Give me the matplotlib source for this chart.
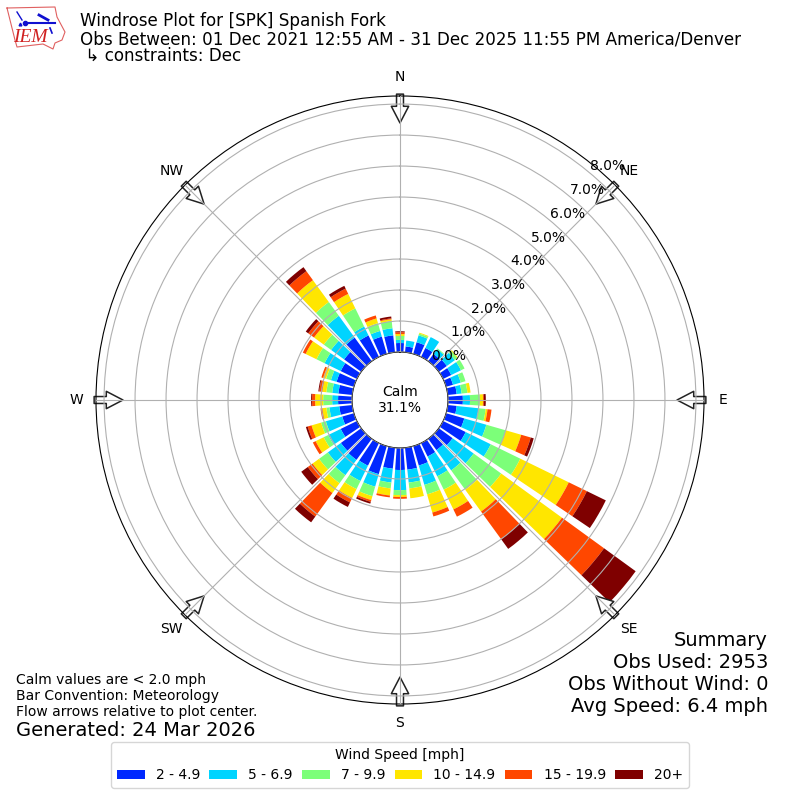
import numpy as np
import matplotlib
matplotlib.use('Agg')
import matplotlib.pyplot as plt

# percent of obs per 10 degree direction bin, one list per speed class
directions = [10, 20, 30, 40, 50, 60, 70, 80, 90, 100, 110, 120,
              130, 140, 150, 160, 170, 180, 190, 200, 210, 220, 230, 240,
              250, 260, 270, 280, 290, 300, 310, 320, 330, 340, 350, 360]
speed_2_5 = [.19, .39, .32, .29, .32, .29, .23, .29, .48, .29, .61, .81,
             .55, .45, .48, .65, .71, .71, .68, .94, .81, .84, .81, .58,
             .39, .42, .45, .45, .58, .58, .68, .94, .77, .58, .55, .29]
speed_5_7 = [.19, .23, .39, .19, .32, .35, .26, .16, .23, .71, .74, .90,
             .84, .81, .71, .65, .42, .65, .45, .42, .55, .61, .52, .45,
             .55, .32, .19, .20, .19, .58, .52, .87, .32, .19, .23, .10]
speed_7_10 = [0, .06, 0, .03, .10, .13, .16, .19, .32, .23, .65, 1.06,
              1.10, .77, .48, .32, .19, .16, .19, .32, .29, .32, .35, .16,
              .16, .10, .29, .19, .16, .29, .29, .55, .65, .26, .23, .13]
speed_10_15 = [0, .03, 0, 0, .03, 0, 0, .10, .10, .06, .52, 1.74,
               2.42, .87, .71, .61, .32, .06, .23, .13, .32, .39, .26, .29,
               .32, .13, .26, .13, .10, .39, .39, .87, .52, .16, .06, .06]
speed_15_20 = [0, 0, 0, 0, 0, 0, 0, 0, .03, .13, .32, .65,
               1.68, 1.10, .26, .13, 0, .06, .06, .06, .16, .94, .19, .10,
               .13, .06, .10, .10, .06, .10, .23, .36, .19, .10, .03, .06]
speed_20 = [0, 0, 0, 0, 0, 0, 0, 0, .06, 0, .10, .68,
            1.26, .39, 0, 0, 0, 0, 0, .06, .16, .23, .26, 0,
            .06, 0, .03, .03, 0, 0, .10, .16, .10, 0, .06, .03]

series = [speed_2_5, speed_5_7, speed_7_10, speed_10_15, speed_15_20, speed_20]
speed_labels = ['2 - 4.9', '5 - 6.9', '7 - 9.9', '10 - 14.9', '15 - 19.9', '20+']
colors = ['#0028ff', '#00d4ff', '#7cff79', '#ffe600', '#ff4700', '#7f0000']
compass = ['N', 'NE', 'E', 'SE', 'S', 'SW', 'W', 'NW']
rings = [0, 1, 2, 3, 4, 5, 6, 7, 8]

fig = plt.figure(figsize=(8, 8), dpi=100)
ax = fig.add_axes([96 / 800, 96 / 800, 608 / 800, 608 / 800], projection='polar')
ax.set_theta_zero_location('N')
ax.set_theta_direction(-1)

theta = np.radians(directions)
width = np.radians(8)
base = np.zeros(len(directions))
for vals, color, label in zip(series, colors, speed_labels):
    ax.bar(theta, vals, width=width, bottom=base, color=color, label=label, linewidth=0)
    base = base + np.array(vals)

rmax = 8.26
ax.set_rorigin(-48 / 31)
ax.set_rmin(0)
ax.set_rmax(rmax)
ax.set_axisbelow(False)
ax.grid(True)
ax.set_xticks(np.radians(np.arange(0, 360, 45)))
ax.set_xticklabels(compass)
ax.set_yticks(rings)
ax.set_yticklabels(['%.1f%%' % r for r in rings])
ax.set_rlabel_position(40)

# flow arrows around the edge, under the grid lines
for ang in np.arange(0, 360, 45):
    ax.annotate('', xy=(np.radians(ang), 7.39), xytext=(np.radians(ang), rmax + 0.06),
                arrowprops=dict(facecolor='white', edgecolor='#222222', width=5,
                                headwidth=12.5, headlength=12, shrink=0, linewidth=1.1),
                annotation_clip=False, zorder=2)

ax.text(0.5, 0.5, 'Calm\n31.1%', transform=ax.transAxes, ha='center', va='center', fontsize=10)

leg = ax.legend(loc='lower center', bbox_to_anchor=(0.5, 12 / 800), bbox_transform=fig.transFigure,
                borderaxespad=0, ncol=6, title='Wind Speed [mph]', fontsize=10,
                title_fontsize=10, columnspacing=0.66)

# title block
fig.text(80 / 800, 1 - 21 / 800, 'Windrose Plot for [SPK] Spanish Fork', fontsize=12.05, va='center')
fig.text(80 / 800, 1 - 39 / 800, 'Obs Between: 01 Dec 2021 12:55 AM - 31 Dec 2025 11:55 PM America/Denver',
         fontsize=12.05, va='center')
fig.text(80 / 800, 1 - 56 / 800, ' \u21b3 constraints: Dec', fontsize=12.05, va='center')

# footer text
fig.text(16 / 800, 1 - 680 / 800, 'Calm values are < 2.0 mph', fontsize=10, va='center')
fig.text(16 / 800, 1 - 696 / 800, 'Bar Convention: Meteorology', fontsize=10, va='center')
fig.text(16 / 800, 1 - 712 / 800, 'Flow arrows relative to plot center.', fontsize=10, va='center')
fig.text(16 / 800, 1 - 730 / 800, 'Generated: 24 Mar 2026', fontsize=14, va='center')

fig.text(768 / 800, 1 - 640 / 800, 'Summary', fontsize=14, ha='right', va='center')
fig.text(768 / 800, 1 - 662 / 800, 'Obs Used: 2953', fontsize=14, ha='right', va='center')
fig.text(768 / 800, 1 - 684 / 800, 'Obs Without Wind: 0', fontsize=14, ha='right', va='center')
fig.text(768 / 800, 1 - 706 / 800, 'Avg Speed: 6.4 mph', fontsize=14, ha='right', va='center')

# rough copy of the IEM logo
logo = fig.add_axes([0, 1 - 52 / 800, 70 / 800, 52 / 800])
logo.set_xlim(0, 70)
logo.set_ylim(52, 0)
logo.axis('off')
outline_x = [7, 55, 57, 65, 62, 55, 53, 43, 17, 15, 7]
outline_y = [8, 7, 17, 32, 40, 43, 49, 44, 47, 40, 8]
logo.plot(outline_x, outline_y, color='#e06060', lw=0.8)
logo.plot([25, 55], [23, 23], color='#1010d0', lw=1.5)
logo.plot([25], [23], 'o', color='#1010d0', ms=3)
logo.plot([20], [24], '^', color='#1010d0', ms=2)
logo.plot([17, 22], [12, 20], color='#1010d0', lw=1)
logo.plot([39, 48], [15, 20], color='#1010d0', lw=2)
logo.plot([50, 52], [28, 33], color='#1010d0', lw=1.2)
logo.text(30.5, 38, 'IEM', color='#d02020', family='Liberation Serif', style='italic',
          fontsize=14, ha='center', va='center')

fig.savefig('out.png', dpi=100)
